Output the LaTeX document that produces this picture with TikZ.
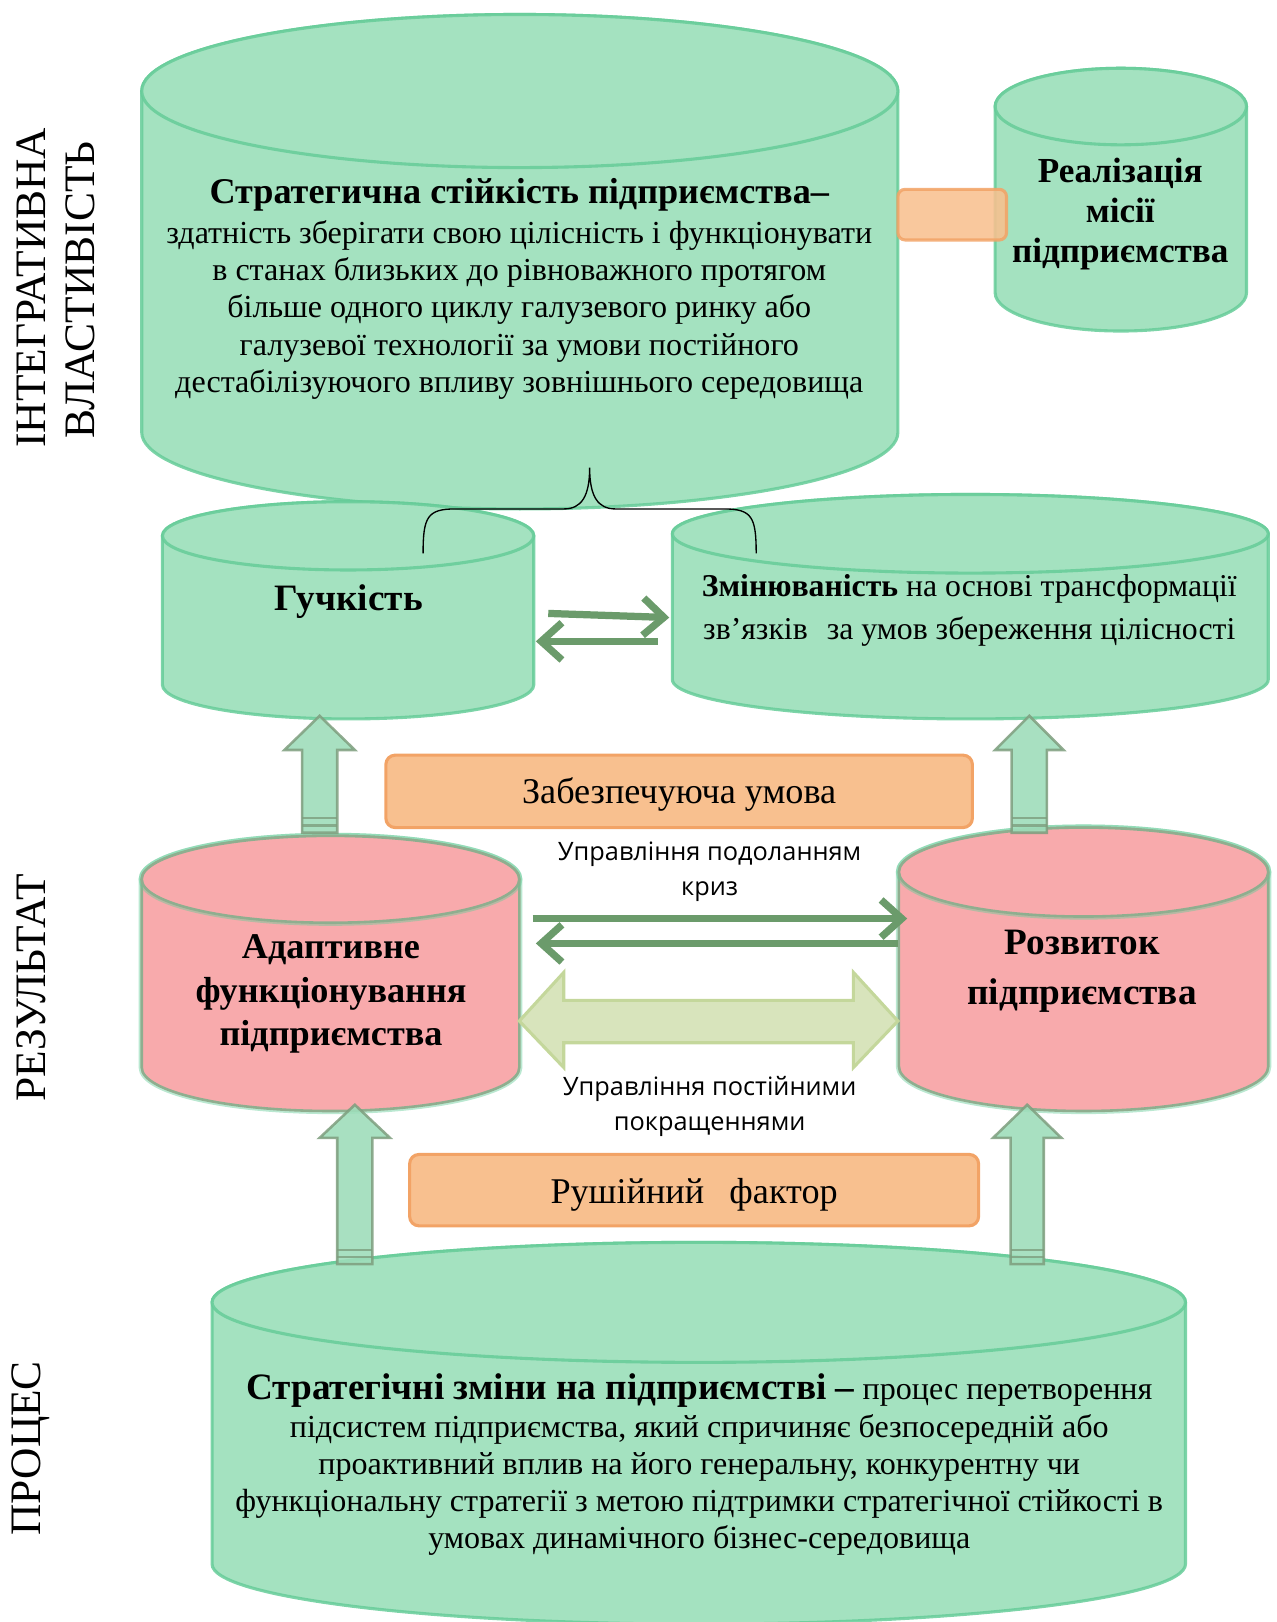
\documentclass[tikz,border=0pt]{standalone}
\usepackage{fontspec}
\setmainfont{Liberation Serif}
\newfontfamily\labfont{Open Sans}
\usetikzlibrary{arrows.meta}

\definecolor{cylfill}{HTML}{A4E2C0}
\definecolor{cylline}{HTML}{66CC99}
\definecolor{pinkfill}{HTML}{F8AAAC}
\definecolor{pinkline}{HTML}{8FAE8F}
\definecolor{orfill}{HTML}{F8C08F}
\definecolor{orline}{HTML}{F2A366}
\definecolor{dkgreen}{HTML}{6B9B6B}
\definecolor{upfill}{HTML}{9EDDBA}
\definecolor{upline}{HTML}{7E9E7E}
\definecolor{dblfill}{HTML}{D8E4BC}
\definecolor{dblline}{HTML}{C4D79B}

% cylinder: #1 centre x, #2 half width, #3 top centre y, #4 bottom centre y, #5 half height of the ellipses, #6 style
\newcommand\drum[6]{%
  \path[#6] (#1-#2,#3) -- (#1-#2,#4)
    arc[start angle=180,end angle=0,x radius=#2,y radius=#5]
    -- (#1+#2,#3)
    arc[start angle=0,end angle=-180,x radius=#2,y radius=#5] -- cycle;
  \path[#6] (#1,#3) ellipse[x radius=#2,y radius=#5];
}
% upward block arrow: #1 centre x, #2 tip y, #3 head base y, #4 tail y, #5 shaft half width, #6 head half width
\newcommand\blockup[6]{%
  \path[uparr] (#1,#2) -- (#1+#6,#3) -- (#1+#5,#3) -- (#1+#5,#4) -- (#1-#5,#4)
    -- (#1-#5,#3) -- (#1-#6,#3) -- cycle;
  \draw[upline, line width=2pt, draw opacity=0.8] (#1-#5,#4-14) -- (#1+#5,#4-14)
    (#1-#5,#4-7) -- (#1+#5,#4-7);
}

\begin{document}
\begin{tikzpicture}[x=1pt,y=-1pt,
  greencyl/.style={fill=cylfill, draw=cylline, line width=3pt, draw opacity=0.85},
  pinkcyl/.style={fill=pinkfill, draw=pinkline, line width=2.5pt,
    preaction={draw=cylline, line width=6pt, draw opacity=0.45}},
  orbox/.style={fill=orfill, draw=orline, line width=3pt, rounded corners=9pt},
  uparr/.style={fill=upfill, draw=upline, line width=2.5pt, fill opacity=0.9, draw opacity=0.85},
  darr/.style={draw=dkgreen, line width=7pt, -{Straight Barb[length=20pt,width=36pt]}},
  body/.style={align=center, font=\fontsize{31}{36}\selectfont},
  head/.style={align=center, font=\bfseries\fontsize{35}{42}\selectfont},
  side/.style={rotate=90, font=\fontsize{42}{44}\selectfont},
  boxtext/.style={font=\fontsize{35}{36}\selectfont},
  lab/.style={align=center, font=\labfont\fontsize{24.5}{34}\selectfont}]
\useasboundingbox (0,0) rectangle (1234,1568);

% side captions
\node[side] (sideA) at (30,278) {ІНТЕГРАТИВНА};
\node[side] (sideB) at (78,280) {ВЛАСТИВІСТЬ};
\node[side] (sideC) at (30,955) {РЕЗУЛЬТАТ};
\node[side] (sideD) at (30,1400) {ПРОЦЕС};

% upper level
\drum{502.5}{365.5}{88}{418}{74}{greencyl}
\drum{1083.5}{121.5}{103}{283}{37}{greencyl}
\node[fill=orfill, draw=orline, line width=3pt, rounded corners=7pt, fill opacity=0.88,
  draw opacity=0.85, minimum width=105, minimum height=49] (link) at (920.5,207.5) {};

\node[body] (stab) at (502,279) {{\bfseries\fontsize{35}{36}\selectfont Стратегична стійкість підприємства–}\\[3pt]
  здатність зберігати свою цілісність і функціонувати\\
  в станах близьких до рівноважного протягом\\
  більше одного циклу галузевого ринку або\\
  галузевої технології за умови постійного\\
  дестабілізуючого впливу зовнішнього середовища};
\node[head, font=\bfseries\fontsize{34}{39}\selectfont] (mission) at (1083,207) {Реалізація\\місії\\підприємства};

% second level
\drum{336.5}{179.5}{518}{662}{33}{greencyl}
\drum{938}{288}{516}{657}{38}{greencyl}
\node[head, font=\bfseries\fontsize{36}{42}\selectfont] (flex) at (337,582) {Гучкість};
\node[body, font=\fontsize{30.7}{42}\selectfont] (change) at (937,590)
  {{\bfseries Змінюваність} на основі трансформації\\зв’язків\hspace{0.6em}за умов збереження цілісності};

% brace joining the two properties
\coordinate (brL) at (409,535);
\coordinate (brR) at (731,535);
\coordinate (brT) at (570,452);
\draw[black, line width=1.3pt] (brL) .. controls (409,500) and (413,492) .. (440,492) -- (545,492)
  .. controls (562,492) and (570,480) .. (brT)
  .. controls (570,480) and (578,492) .. (595,492) -- (700,492)
  .. controls (727,492) and (731,500) .. (brR);

% exchange between flexibility and changeability
\coordinate (g1) at (530,593);
\coordinate (c1) at (647,597);
\coordinate (c2) at (636,620);
\coordinate (g2) at (518,620);
\draw[darr] (g1) -- (c1);
\draw[darr] (c2) -- (g2);

% ensuring condition
\node[orbox, minimum width=567, minimum height=70] (cond) at (656.5,765) {};
\node[boxtext] (condtext) at (656.5,768) {Забезпечуюча умова};
\node[lab] (crisis) at (686,843) {Управління подоланням\\криз};

% results level
\drum{319.5}{182.5}{850}{1032}{42}{pinkcyl}
\drum{1047.5}{178.5}{843}{1031}{43}{pinkcyl}
\node[head] (adapt) at (320,961) {Адаптивне\\функціонування\\підприємства};
\node[head, font=\bfseries\fontsize{36}{49}\selectfont] (devel) at (1046,939) {Розвиток\\підприємства};

\blockup{309}{692}{725}{805}{17}{34}
\blockup{995}{692}{725}{805}{17}{33}

\coordinate (a1) at (515,888);
\coordinate (d1) at (877,888);
\coordinate (d2) at (868,912);
\coordinate (a2) at (518,912);
\draw[darr] (a1) -- (d1);
\draw[darr] (d2) -- (a2);

\path[fill=dblfill, draw=dblline, line width=3pt]
  (502,987) -- (545,940) -- (545,967) -- (825,967) -- (825,940) -- (868,987)
  -- (825,1032) -- (825,1008) -- (545,1008) -- (545,1032) -- cycle;
\node[lab] (improve) at (686,1070) {Управління постійними\\покращеннями};

% driving factor
\node[orbox, minimum width=550, minimum height=69] (drive) at (671,1150.5) {};
\node[boxtext] (drivetext) at (671,1155.5) {Рушійний\hspace{0.45em} фактор};

% process level
\drum{675.5}{470.5}{1259}{1512}{58}{greencyl}
\node[body] (proc) at (676,1416) {{\bfseries\fontsize{36}{36}\selectfont Стратегічні зміни на підприємстві –} процес перетворення\\
  підсистем підприємства, який спричиняє безпосередній або\\
  проактивний вплив на його генеральну, конкурентну чи\\
  функціональну стратегії з метою підтримки стратегічної стійкості в\\
  умовах динамічного бізнес-середовища};

\blockup{343}{1068}{1100}{1222}{17}{34}
\blockup{993}{1068}{1100}{1222}{16}{33}
\end{tikzpicture}
\end{document}
